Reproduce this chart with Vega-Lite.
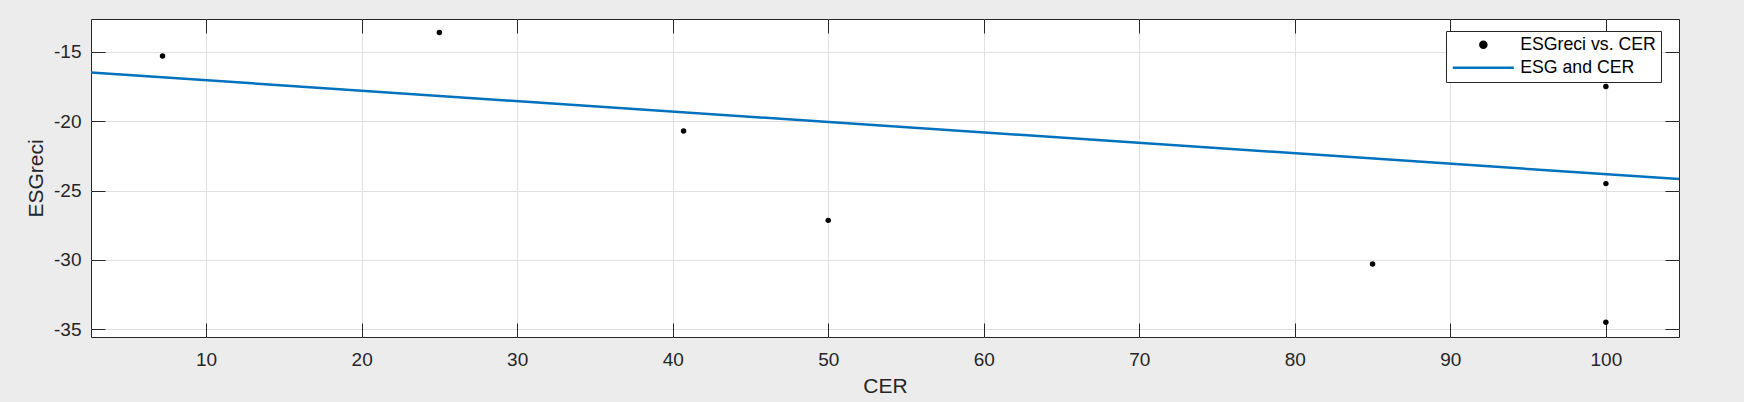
{
  "$schema": "https://vega.github.io/schema/vega-lite/v6.json",
  "width": 1588,
  "height": 318,
  "autosize": "none",
  "padding": {"left": 91, "top": 19, "right": 65, "bottom": 65},
  "background": "#ececec",
  "config": {
    "view": {"stroke": "#262626", "strokeWidth": 1, "fill": "white"},
    "font": "Liberation Sans",
    "legend": {
      "title": null,
      "orient": "none",
      "legendX": 1355,
      "legendY": 12,
      "direction": "vertical",
      "strokeColor": "#262626",
      "fillColor": "#ffffff",
      "padding": 5,
      "labelFontSize": 17.7,
      "labelColor": "#000000",
      "labelFont": "Liberation Sans",
      "rowPadding": 4,
      "symbolSize": 100,
      "symbolStrokeWidth": 2.5,
      "symbolOffset": 23.5,
      "labelOffset": 28
    }
  },
  "datasets": {
    "points": [
      {"CER": 7.2, "ESGreci": -15.3, "series": "ESGreci vs. CER"},
      {"CER": 25.0, "ESGreci": -13.6, "series": "ESGreci vs. CER"},
      {"CER": 40.7, "ESGreci": -20.7, "series": "ESGreci vs. CER"},
      {"CER": 50.0, "ESGreci": -27.15, "series": "ESGreci vs. CER"},
      {"CER": 85.0, "ESGreci": -30.3, "series": "ESGreci vs. CER"},
      {"CER": 100.0, "ESGreci": -17.5, "series": "ESGreci vs. CER"},
      {"CER": 100.0, "ESGreci": -24.5, "series": "ESGreci vs. CER"},
      {"CER": 100.0, "ESGreci": -34.5, "series": "ESGreci vs. CER"}
    ],
    "fit": [
      {"CER": 2.6, "ESGreci": -16.49, "series": "ESG and CER"},
      {"CER": 104.7, "ESGreci": -24.17, "series": "ESG and CER"}
    ]
  },
  "layer": [
    {
      "data": {"name": "points"},
      "mark": {"type": "point", "filled": true, "size": 30, "opacity": 1},
      "encoding": {
        "x": {
          "field": "CER", "type": "quantitative",
          "scale": {"domain": [2.6, 104.7], "nice": false, "zero": false},
          "axis": {
            "orient": "bottom",
            "values": [10, 20, 30, 40, 50, 60, 70, 80, 90, 100],
            "labelExpr": "datum.value < 0 ? '-' + abs(datum.value) : '' + datum.value",
            "title": "CER", "titleFontSize": 21, "titleFontWeight": "normal", "titleColor": "#262626", "titlePadding": 6,
            "labelFontSize": 19, "labelColor": "#262626", "labelPadding": 27, "labelFlush": false, "labelOverlap": false,
            "tickSize": -14, "tickColor": "#262626", "tickWidth": 1,
            "domain": false, "grid": true, "gridColor": "#dfdfdf", "gridWidth": 1
          }
        },
        "y": {
          "field": "ESGreci", "type": "quantitative",
          "scale": {"domain": [-35.56, -12.63], "nice": false, "zero": false},
          "axis": {
            "orient": "left",
            "values": [-35, -30, -25, -20, -15],
            "labelExpr": "datum.value < 0 ? '-' + abs(datum.value) : '' + datum.value",
            "title": "ESGreci", "titleFontSize": 21, "titleFontWeight": "normal", "titleColor": "#262626", "titlePadding": 7,
            "labelFontSize": 19, "labelColor": "#262626", "labelPadding": 24, "labelFlush": false, "labelOverlap": false,
            "tickSize": -14, "tickColor": "#262626", "tickWidth": 1,
            "domain": false, "grid": true, "gridColor": "#dfdfdf", "gridWidth": 1
          }
        },
        "color": {
          "field": "series", "type": "nominal",
          "scale": {"domain": ["ESGreci vs. CER", "ESG and CER"], "range": ["#000000", "#0072BD"]},
          "legend": {
            "encode": {
              "symbols": {
                "update": {
                  "shape": {"signal": "datum.value == 'ESG and CER' ? 'M-6.1,0L6.1,0' : 'M-0.6,0A0.6,0.6 0 1,0 0.6,0A0.6,0.6 0 1,0 -0.6,0Z'"},
                  "size": {"value": 100},
                  "fill": {"signal": "datum.value == 'ESG and CER' ? 'transparent' : '#000000'"},
                  "stroke": {"signal": "datum.value == 'ESG and CER' ? '#0072BD' : 'transparent'"},
                  "strokeWidth": {"value": 2.5},
                  "opacity": {"value": 1}
                }
              }
            }
          }
        }
      }
    },
    {
      "data": {"name": "fit"},
      "mark": {"type": "line", "strokeWidth": 2.5},
      "encoding": {
        "x": {
          "field": "CER", "type": "quantitative",
          "axis": {
            "orient": "top",
            "values": [10, 20, 30, 40, 50, 60, 70, 80, 90, 100],
            "title": null, "labels": false, "grid": false, "domain": false,
            "tickSize": -14, "tickColor": "#262626", "tickWidth": 1
          }
        },
        "y": {
          "field": "ESGreci", "type": "quantitative",
          "axis": {
            "orient": "right",
            "values": [-35, -30, -25, -20, -15],
            "title": null, "labels": false, "grid": false, "domain": false,
            "tickSize": -14, "tickColor": "#262626", "tickWidth": 1
          }
        },
        "color": {
          "field": "series", "type": "nominal",
          "legend": {
            "encode": {
              "symbols": {
                "update": {
                  "shape": {"signal": "datum.value == 'ESG and CER' ? 'M-6.1,0L6.1,0' : 'M-0.6,0A0.6,0.6 0 1,0 0.6,0A0.6,0.6 0 1,0 -0.6,0Z'"},
                  "size": {"value": 100},
                  "fill": {"signal": "datum.value == 'ESG and CER' ? 'transparent' : '#000000'"},
                  "stroke": {"signal": "datum.value == 'ESG and CER' ? '#0072BD' : 'transparent'"},
                  "strokeWidth": {"value": 2.5},
                  "opacity": {"value": 1}
                }
              }
            }
          }
        }
      }
    }
  ],
  "resolve": {"axis": {"x": "independent", "y": "independent"}}
}
